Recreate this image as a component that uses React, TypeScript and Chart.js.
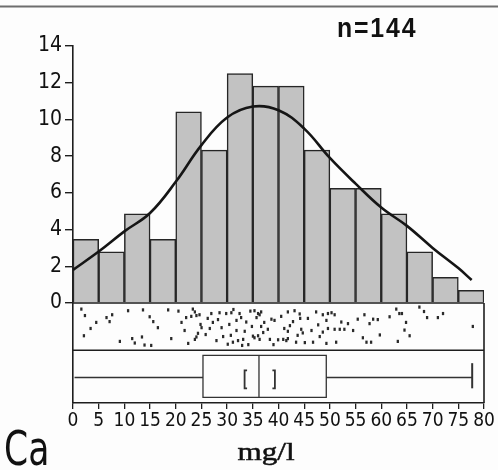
import React, { useEffect, useRef } from "react";
import { Chart, registerables } from "chart.js";

Chart.register(...registerables);

// ---- data ----
const binCenters = [2.5, 7.5, 12.5, 17.5, 22.5, 27.5, 32.5, 37.5, 42.5, 47.5, 52.5, 57.5, 62.5, 67.5, 72.5, 77.5];
const binPercents = [3.47, 2.78, 4.86, 3.47, 10.42, 8.33, 12.5, 11.81, 11.81, 8.33, 6.25, 6.25, 4.86, 2.78, 1.39, 0.69];

const curveX = [0, 5, 10, 15, 20, 25, 30, 35, 40, 45, 50, 55, 60, 65, 70, 75, 77.6];
const curveY = [1.8, 2.8, 3.9, 4.9, 6.6, 8.6, 10.1, 10.7, 10.5, 9.5, 7.9, 6.5, 5.2, 4.2, 3.0, 1.9, 1.25];

// strip plot: value (mg/l) and vertical position in the strip (0 = top, 1 = bottom)
const stripX = [
  1.4, 2.1, 4.3, 1.9, 3.2,
  6.3, 7.4, 6.9, 8.9,
  10.5, 13.4, 14.7, 11.3, 11.8, 13.2, 13.7,
  15.4, 16.3, 18.3, 15.0, 18.9,
  20.9, 21.5, 21.8, 22.8, 23.8, 24.4, 23.1, 23.5, 24.1, 24.8, 23.5, 23.8, 20.3, 22.2, 24.6,
  26.7, 28.3, 29.6, 28.0, 26.4, 28.7, 27.7, 29.9, 25.6, 27.0, 26.0, 29.0,
  30.6, 32.2, 31.6, 33.5, 31.6, 30.9, 31.9, 32.9, 34.8, 30.2, 31.0, 32.5, 33.2, 33.9, 34.3, 34.6, 30.5, 32.7,
  35.1, 35.8, 36.4, 36.1, 35.5, 38.4, 39.0, 36.4, 37.7, 35.1, 35.8, 36.1, 38.1, 39.7, 37.0, 38.8, 36.8,
  41.6, 42.9, 43.9, 42.6, 41.6, 44.2, 44.5, 40.7, 41.3, 41.6, 43.2, 44.9, 40.3, 42.0, 43.5, 40.9, 44.0,
  47.1, 48.4, 49.4, 47.5, 49.1, 48.4, 49.4, 46.5, 49.1, 45.5, 46.2, 47.8,
  50.1, 50.7, 50.7, 51.7, 51.0, 52.0, 52.6, 53.3, 54.3,
  55.2, 56.2, 56.5, 56.9, 57.5, 57.8, 58.2, 59.1, 59.5,
  61.4, 62.7, 63.0, 63.3, 63.8, 64.3, 64.6,
  65.3, 67.2, 68.1, 68.7,
  70.8, 71.8,
  77.6,
];
const stripPos = [
  0.07, 0.23, 0.40, 0.73, 0.55,
  0.28, 0.21, 0.38, 0.87,
  0.11, 0.09, 0.26, 0.80, 0.91, 0.76, 0.96,
  0.38, 0.53, 0.09, 0.97, 0.80,
  0.40, 0.60, 0.28, 0.25, 0.23, 0.21, 0.07, 0.14, 0.67, 0.53, 0.82, 0.76, 0.12, 0.92, 0.45,
  0.18, 0.16, 0.18, 0.33, 0.55, 0.53, 0.85, 0.94, 0.70, 0.40, 0.30, 0.75,
  0.16, 0.18, 0.35, 0.39, 0.60, 0.89, 0.85, 0.82, 0.74, 0.45, 0.08, 0.28, 0.62, 0.95, 0.12, 0.50, 0.72, 0.97,
  0.11, 0.18, 0.14, 0.21, 0.28, 0.32, 0.35, 0.50, 0.57, 0.78, 0.73, 0.82, 0.82, 0.83, 0.40, 0.95, 0.65,
  0.14, 0.11, 0.19, 0.38, 0.62, 0.57, 0.66, 0.82, 0.85, 0.80, 0.89, 0.90, 0.25, 0.48, 0.72, 0.55, 0.30,
  0.14, 0.21, 0.18, 0.46, 0.35, 0.64, 0.55, 0.89, 0.92, 0.30, 0.60, 0.75,
  0.16, 0.21, 0.57, 0.57, 0.89, 0.39, 0.57, 0.43, 0.60,
  0.32, 0.78, 0.21, 0.89, 0.43, 0.89, 0.32, 0.33, 0.71,
  0.26, 0.07, 0.87, 0.18, 0.18, 0.59, 0.40,
  0.73, 0.02, 0.13, 0.28,
  0.28, 0.18,
  0.50,
];

// box plot summary (mg/l)
const boxMin = 0.3;
const boxQ1 = 25.3;
const boxMedian = 36.2;
const boxQ3 = 49.3;
const boxMax = 77.7;
const ciLow = 33.4;
const ciHigh = 39.3;

const xTicks = [0, 5, 10, 15, 20, 25, 30, 35, 40, 45, 50, 55, 60, 65, 70, 75, 80];
const yTicks = [0, 2, 4, 6, 8, 10, 12, 14];

const nLabel = "n=144";
const elementLabel = "Ca";
const unitLabel = "mg/l";

// layout of the lower panels in y-units of the histogram scale
const Y_MIN = -5.45;
const STRIP_BOTTOM = -2.577;

const NARROW = "'Liberation Sans Narrow', 'Arial Narrow', 'DejaVu Sans Condensed', sans-serif";
const INK = "#1e1e1e";

export default function App() {
  const ref = useRef<HTMLCanvasElement | null>(null);

  useEffect(() => {
    if (!ref.current) return;

    const overlay = {
      id: "overlay",
      beforeDraw(chart: any) {
        const c = chart.ctx;
        c.save();
        c.fillStyle = "#fdfdfd";
        c.fillRect(0, 0, chart.width, chart.height);
        // top rule
        c.strokeStyle = "#6e6e6e";
        c.lineWidth = 2;
        c.beginPath();
        c.moveTo(0, 6.5);
        c.lineTo(chart.width, 6.5);
        c.stroke();
        c.restore();
      },
      afterDatasetsDraw(chart: any) {
        const c = chart.ctx;
        const x = chart.scales.x;
        const y = chart.scales.y;
        const px = (v: number) => x.getPixelForValue(v);
        const py = (v: number) => y.getPixelForValue(v);
        const left = chart.chartArea.left;
        const right = chart.chartArea.right;
        const bottom = chart.chartArea.bottom;
        c.save();
        c.strokeStyle = INK;
        c.lineWidth = 1.6;
        // baseline, strip separator, right border
        c.beginPath();
        c.moveTo(left, py(0));
        c.lineTo(right, py(0));
        c.moveTo(left, py(STRIP_BOTTOM));
        c.lineTo(right, py(STRIP_BOTTOM));
        c.moveTo(right, py(0));
        c.lineTo(right, bottom);
        c.stroke();

        // box plot
        const bTop = py(-2.85);
        const bBot = py(-5.14);
        const bMid = py(-4.06);
        c.lineWidth = 1.3;
        c.strokeStyle = "#333";
        c.beginPath();
        c.rect(px(boxQ1), bTop, px(boxQ3) - px(boxQ1), bBot - bTop);
        c.moveTo(px(boxMedian), bTop);
        c.lineTo(px(boxMedian), bBot);
        c.moveTo(px(boxMin), bMid);
        c.lineTo(px(boxQ1), bMid);
        c.moveTo(px(boxQ3), bMid);
        c.lineTo(px(boxMax), bMid);
        c.stroke();
        c.lineWidth = 2;
        c.beginPath();
        c.moveTo(px(boxMax), py(-3.28));
        c.lineTo(px(boxMax), py(-4.65));
        c.stroke();
        // confidence brackets
        const cT = py(-3.67);
        const cB = py(-4.65);
        c.lineWidth = 1.8;
        c.beginPath();
        c.moveTo(px(ciLow) + 2.5, cT);
        c.lineTo(px(ciLow), cT);
        c.lineTo(px(ciLow), cB);
        c.lineTo(px(ciLow) + 2.5, cB);
        c.moveTo(px(ciHigh) - 2.5, cT);
        c.lineTo(px(ciHigh), cT);
        c.lineTo(px(ciHigh), cB);
        c.lineTo(px(ciHigh) - 2.5, cB);
        c.stroke();

        // texts
        c.fillStyle = "#111";
        c.textBaseline = "alphabetic";
        c.textAlign = "left";
        c.save();
        c.translate(337, 37);
        c.scale(0.92, 1);
        c.font = "bold 27px 'Liberation Sans', Arial, sans-serif";
        try { (c as any).letterSpacing = "2px"; } catch (e) {}
        c.fillText(nLabel, 0, 0);
        try { (c as any).letterSpacing = "0px"; } catch (e) {}
        c.restore();

        c.save();
        c.translate(4, 465);
        c.scale(0.8, 1);
        c.font = "48px " + NARROW;
        c.fillText(elementLabel, 0, 0);
        c.restore();

        c.save();
        c.translate(266, 460);
        c.scale(1.2, 1);
        c.textAlign = "center";
        c.font = "26px 'Liberation Serif', 'Times New Roman', serif";
        c.lineWidth = 0.5;
        c.strokeStyle = "#111";
        c.fillText(unitLabel, 0, 0);
        c.strokeText(unitLabel, 0, 0);
        c.restore();

        c.restore();
      },
    };

    const chart = new Chart(ref.current, {
      type: "bar",
      data: {
        datasets: [
          {
            type: "line",
            data: curveX.map((v, i) => ({ x: v, y: curveY[i] })),
            borderColor: "#151515",
            borderWidth: 2.6,
            pointRadius: 0,
            tension: 0.4,
            fill: false,
            order: 0,
          } as any,
          {
            type: "line",
            data: stripX.map((v, i) => ({ x: v, y: -(0.18 + stripPos[i] * 2.2) })),
            showLine: false,
            pointStyle: "dash",
            pointRadius: 2.3,
            pointBorderWidth: 3.2,
            borderColor: "#2a2a2a",
            backgroundColor: "#2a2a2a",
            order: 1,
          } as any,
          {
            type: "bar",
            data: binCenters.map((v, i) => ({ x: v, y: binPercents[i] })),
            backgroundColor: "#c2c2c2",
            borderColor: "#262626",
            borderWidth: 1.5,
            barPercentage: 1,
            categoryPercentage: 1,
            order: 2,
          } as any,
        ],
      },
      options: {
        animation: false,
        responsive: false,
        maintainAspectRatio: false,
        layout: { padding: { left: 0, top: 46, right: 14, bottom: 37 } },
        plugins: { legend: { display: false }, tooltip: { enabled: false }, title: { display: false } },
        scales: {
          x: {
            type: "linear",
            min: 0,
            max: 80,
            offset: false,
            afterBuildTicks: (s: any) => {
              s.ticks = xTicks.map((v) => ({ value: v }));
            },
            afterFit: (s: any) => {
              s.height = 30;
            },
            ticks: {
              autoSkip: false,
              maxRotation: 0,
              minRotation: 0,
              padding: 1,
              color: "#111",
              font: { family: NARROW, size: 19 },
            },
            grid: { offset: false, drawOnChartArea: false, drawTicks: true, tickLength: 6, color: INK, lineWidth: 1.3 },
            border: { display: true, color: INK, width: 1.6 },
          },
          y: {
            type: "linear",
            min: Y_MIN,
            max: 14,
            afterBuildTicks: (s: any) => {
              s.ticks = yTicks.map((v) => ({ value: v }));
            },
            afterFit: (s: any) => {
              s.width = 73;
            },
            ticks: {
              padding: 3,
              color: "#111",
              font: { family: NARROW, size: 21 },
            },
            grid: { drawOnChartArea: false, drawTicks: true, tickLength: 8, color: INK, lineWidth: 1.4 },
            border: { display: true, color: INK, width: 1.6 },
          },
        },
      } as any,
      plugins: [overlay],
    });

    return () => chart.destroy();
  }, []);

  return (
    <div style={{ position: "absolute", left: 0, top: 0, width: 498, height: 470 }}>
      <canvas ref={ref} width={498} height={470} />
    </div>
  );
}
